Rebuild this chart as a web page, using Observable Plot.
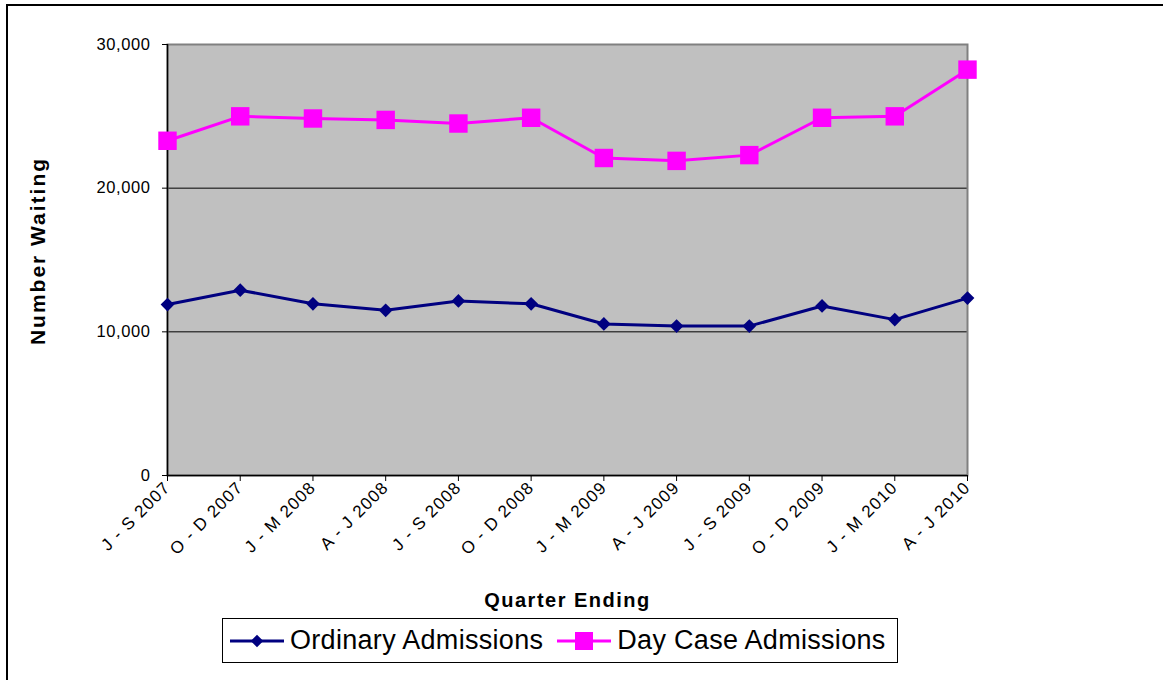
<!DOCTYPE html>
<html>
<head>
<meta charset="utf-8">
<script src="https://cdn.jsdelivr.net/npm/d3@7"></script>
<script src="https://cdn.jsdelivr.net/npm/@observablehq/plot@0.6"></script>
<style>
  html, body { margin: 0; padding: 0; background: white; }
  #wrap { position: relative; width: 1163px; height: 680px; overflow: hidden; font-family: 'Liberation Sans', Arial, sans-serif; }
  #outer { position: absolute; left: 6px; top: 4px; width: 1300px; height: 800px; border-top: 2px solid black; border-left: 2px solid black; pointer-events: none; }
  #chart { position: absolute; left: 0; top: 0; }
  #legend { position: absolute; left: 222px; top: 618px; width: 676px; height: 45px; box-sizing: border-box; border: 1px solid black; background: white; display: flex; align-items: center; padding-left: 7px; font-size: 27px; letter-spacing: 0.3px; color: black; }
  .item { display: flex; align-items: center; }
  .item svg { display: block; margin-right: 4px; }
</style>
</head>
<body>
<div id="wrap">
  <div id="chart"></div>
  <div id="outer"></div>
  <div id="legend"></div>
</div>
<script>
const quarters = ["J - S 2007","O - D 2007","J - M 2008","A - J 2008","J - S 2008","O - D 2008","J - M 2009","A - J 2009","J - S 2009","O - D 2009","J - M 2010","A - J 2010"];
const ordinary = [11900,12900,11950,11500,12150,11950,10550,10400,10400,11800,10850,12350];
const dayCase = [23300,25000,24850,24750,24500,24900,22100,21900,22300,24900,25000,28250];
const seriesNames = ["Ordinary Admissions","Day Case Admissions"];
const seriesColors = ["#000080","#FF00FF"];
const yTicks = [0,10000,20000,30000];

const ordData = quarters.map((q,i) => ({quarter:q, value:ordinary[i]}));
const dayData = quarters.map((q,i) => ({quarter:q, value:dayCase[i]}));

const chart = Plot.plot({
  width: 1163,
  height: 615,
  marginLeft: 167,
  marginRight: 196,
  marginTop: 44,
  marginBottom: 140,
  style: {fontFamily: "'Liberation Sans', Arial, sans-serif", background: "transparent", color: "black", overflow: "visible"},
  x: {type: "point", domain: quarters, padding: 0, round: false, axis: null, label: null},
  y: {domain: [0, 30000], axis: null, label: null},
  marks: [
    Plot.frame({fill: "#C0C0C0"}),
    Plot.ruleY([10000, 20000], {stroke: "black", strokeWidth: 1}),
    Plot.frame({stroke: "#808080", strokeWidth: 2}),
    Plot.ruleX([quarters[0]], {stroke: "black", strokeWidth: 1.5}),
    Plot.ruleY([0], {stroke: "black", strokeWidth: 1.5}),
    Plot.axisY({ticks: yTicks, tickFormat: d3.format(","), tickSize: 5, tickPadding: 12, fontSize: 16.5, stroke: "black", label: null}),
    Plot.axisX({tickRotate: -45, tickSize: 6, tickPadding: 3, fontSize: 17, stroke: "black", label: null}),
    Plot.line(ordData, {x: "quarter", y: "value", stroke: seriesColors[0], strokeWidth: 3}),
    Plot.dot(ordData, {x: "quarter", y: "value", symbol: "diamond2", r: 6.2, fill: seriesColors[0], stroke: "none"}),
    Plot.line(dayData, {x: "quarter", y: "value", stroke: seriesColors[1], strokeWidth: 3}),
    Plot.dot(dayData, {x: "quarter", y: "value", symbol: "square", r: 10.4, fill: seriesColors[1], stroke: "none"}),
    Plot.text(["Quarter Ending"], {frameAnchor: "bottom", dy: 125, lineAnchor: "middle", textAnchor: "middle", fontSize: 20, fontWeight: "bold", fill: "black"}),
    Plot.text(["Number Waiting"], {frameAnchor: "left", dx: -129, dy: -9, rotate: -90, lineAnchor: "middle", textAnchor: "middle", fontSize: 21, fontWeight: "bold", fill: "black"})
  ]
});
document.getElementById("chart").appendChild(chart);
// slightly wider letter spacing like the original renderer
d3.select(chart).selectAll("g[aria-label='x-axis tick label'] text").attr("letter-spacing", "1.2px");
d3.select(chart).selectAll("g[aria-label='y-axis tick label'] text").attr("letter-spacing", "0.6px");
const titles = d3.select(chart).selectAll("g[aria-label='text'] text");
titles.filter(function() { return this.textContent === "Quarter Ending"; }).attr("letter-spacing", "1.5px");
titles.filter(function() { return this.textContent === "Number Waiting"; }).attr("letter-spacing", "2px");

// legend
const legend = d3.select("#legend");
seriesNames.forEach((name, i) => {
  const item = legend.append("div").attr("class", "item").style("margin-right", i === 0 ? "14px" : "0px");
  const svg = item.append("svg").attr("width", 56).attr("height", 24);
  svg.append("line").attr("x1", 0).attr("x2", 54).attr("y1", 12).attr("y2", 12)
    .attr("stroke", seriesColors[i]).attr("stroke-width", 3);
  if (i === 0) {
    svg.append("path").attr("d", d3.symbol(d3.symbolDiamond2, 100)()).attr("transform", "translate(27,12)").attr("fill", seriesColors[i]);
  } else {
    svg.append("rect").attr("x", 18).attr("y", 3).attr("width", 18).attr("height", 18).attr("fill", seriesColors[i]);
  }
  item.append("span").text(name);
});
</script>
</body>
</html>
